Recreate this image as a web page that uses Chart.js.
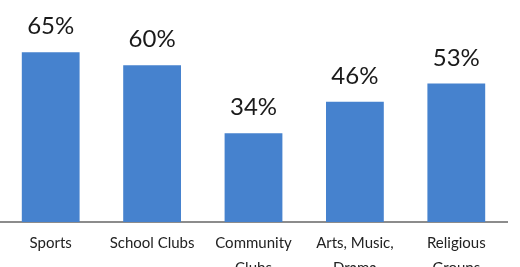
<!DOCTYPE html>
<html>
<head>
<meta charset="utf-8">
<script src="https://cdn.jsdelivr.net/npm/chart.js@4/dist/chart.umd.min.js"></script>
<style>
html,body{margin:0;padding:0;background:#fff;}
#wrap{width:520px;height:267px;position:relative;}
</style>
</head>
<body>
<div id="wrap"><canvas id="c" width="520" height="267"></canvas></div>
<script>
const categories = [["Sports"], ["School Clubs"], ["Community", "Clubs"], ["Arts, Music,", "Drama"], ["Religious", "Groups"]];
const values = [65, 60, 34, 46, 53];
const valueLabels = ["65%", "60%", "34%", "46%", "53%"];

const labelPlugin = {
  id: 'valueLabels',
  afterDatasetsDraw(chart) {
    const ctx = chart.ctx;
    const meta = chart.getDatasetMeta(0);
    ctx.save();
    ctx.font = '24px Lato';
    ctx.fillStyle = '#1a1a1a';
    ctx.textAlign = 'center';
    ctx.textBaseline = 'alphabetic';
    meta.data.forEach((bar, i) => {
      ctx.fillText(valueLabels[i], bar.x, bar.y - 18);
    });
    ctx.restore();
  }
};

new Chart(document.getElementById('c'), {
  type: 'bar',
  data: {
    labels: categories,
    datasets: [{
      data: values,
      backgroundColor: '#4682CE',
      borderWidth: 0,
      categoryPercentage: 1,
      barPercentage: 0.57
    }]
  },
  options: {
    responsive: false,
    animation: false,
    layout: { padding: { left: 0, right: 13, top: 0, bottom: 0 } },
    plugins: { legend: { display: false }, tooltip: { enabled: false }, title: { display: false } },
    scales: {
      x: {
        grid: { display: false, drawTicks: false },
        border: { display: true, color: '#8c8c8c', width: 2 },
        ticks: {
          color: '#222222',
          font: { family: 'Lato', size: 15, lineHeight: '25px' },
          padding: 9,
          maxRotation: 0,
          autoSkip: false
        },
        afterFit(scale) { scale.height = 45; }
      },
      y: {
        display: false,
        min: 0,
        max: 85
      }
    }
  },
  plugins: [labelPlugin]
});
</script>
</body>
</html>
